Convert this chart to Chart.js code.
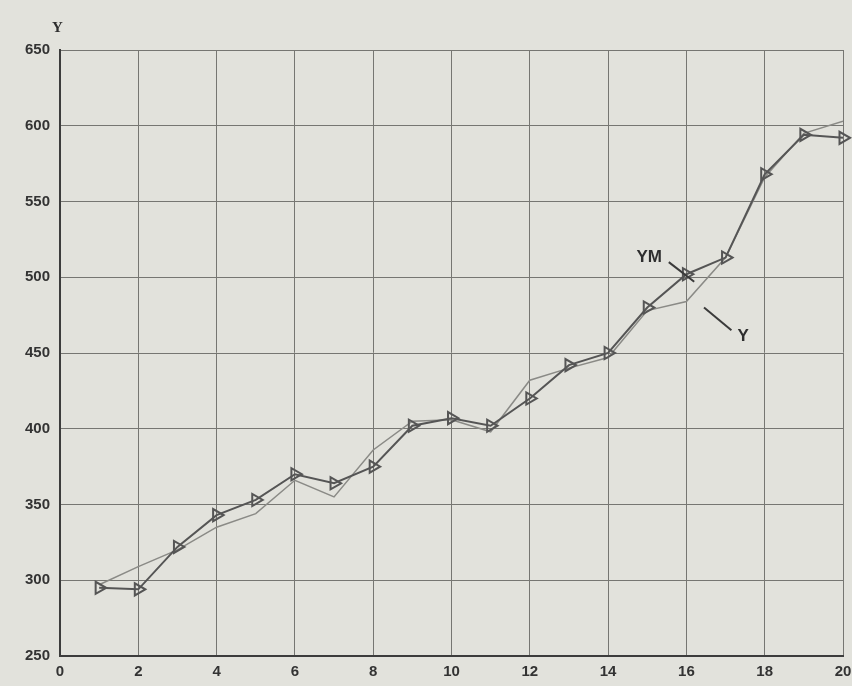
<!DOCTYPE html>
<html>
<head>
<meta charset="utf-8">
<script src="https://cdn.jsdelivr.net/npm/chart.js@4/dist/chart.umd.min.js"></script>
<style>
  html, body { margin: 0; padding: 0; background: #e2e2dc; }
  #wrap { width: 852px; height: 686px; }
</style>
</head>
<body>
<div id="wrap"><canvas id="chart" width="852" height="686"></canvas></div>
<script>
// данные
const xValues = [1, 2, 3, 4, 5, 6, 7, 8, 9, 10, 11, 12, 13, 14, 15, 16, 17, 18, 19, 20];
const ymValues = [295, 294, 322, 343, 353, 370, 364, 375, 402, 407, 402, 420, 442, 450, 480, 502, 513, 568, 594, 592];
const yValues = [297, 309, 320, 335, 344, 366, 355, 386, 405, 406, 398, 432, 440, 447, 478, 484, 513, 566, 595, 603];
const xTicks = [0, 2, 4, 6, 8, 10, 12, 14, 16, 18, 20];
const yTicks = [250, 300, 350, 400, 450, 500, 550, 600, 650];

// подписи кривых: текст, позиция текста, начало и конец выноски (в единицах осей)
const labels = [
  { text: 'YM', x: 15.05, y: 513, from: [15.55, 510], to: [16.2, 497] },
  { text: 'Y', x: 17.45, y: 461, from: [16.45, 480], to: [17.15, 465] }
];

const toPoints = vals => vals.map((v, i) => ({ x: xValues[i], y: v }));

// выноски и подпись оси Y
const notes = {
  id: 'notes',
  afterDatasetsDraw(chart) {
    const { ctx, scales: { x, y }, chartArea } = chart;
    ctx.save();
    ctx.strokeStyle = '#3a3a3a';
    ctx.lineWidth = 2;
    ctx.fillStyle = '#2e2e2e';
    ctx.font = 'bold 17px "Liberation Sans", Arial, sans-serif';
    ctx.textAlign = 'center';
    ctx.textBaseline = 'middle';
    labels.forEach(l => {
      ctx.beginPath();
      ctx.moveTo(x.getPixelForValue(l.from[0]), y.getPixelForValue(l.from[1]));
      ctx.lineTo(x.getPixelForValue(l.to[0]), y.getPixelForValue(l.to[1]));
      ctx.stroke();
      ctx.fillText(l.text, x.getPixelForValue(l.x), y.getPixelForValue(l.y));
    });
    ctx.font = 'bold 15px "Liberation Serif", serif';
    ctx.textAlign = 'left';
    ctx.fillText('Y', chartArea.left - 8, chartArea.top - 22);
    ctx.restore();
  }
};

new Chart(document.getElementById('chart'), {
  type: 'line',
  data: {
    datasets: [
      {
        label: 'YM',
        data: toPoints(ymValues),
        borderColor: '#555',
        borderWidth: 2,
        pointStyle: 'triangle',
        rotation: 90,
        pointRadius: 7,
        pointBorderWidth: 2,
        pointBorderColor: '#555',
        pointBackgroundColor: 'rgba(0,0,0,0)',
        tension: 0,
        clip: false
      },
      {
        label: 'Y',
        data: toPoints(yValues),
        borderColor: '#8a8a86',
        borderWidth: 1.5,
        pointRadius: 0,
        tension: 0
      }
    ]
  },
  options: {
    responsive: false,
    animation: false,
    layout: { padding: { top: 50, right: 6, left: 0, bottom: 0 } },
    plugins: { legend: { display: false }, tooltip: { enabled: false } },
    scales: {
      x: {
        type: 'linear',
        min: 0,
        max: 20,
        afterFit: s => { s.height = 30; s.paddingRight = 0; s.paddingLeft = 0; },
        afterBuildTicks: s => { s.ticks = xTicks.map(v => ({ value: v })); },
        grid: { color: '#767672', lineWidth: 1, drawTicks: false },
        border: { color: '#3c3c3c', width: 2 },
        ticks: {
          padding: 7,
          color: '#333',
          font: { size: 15, weight: 'bold', family: '"Liberation Sans", Arial, sans-serif' }
        }
      },
      y: {
        min: 250,
        max: 650,
        afterFit: s => { s.width = 60; },
        afterBuildTicks: s => { s.ticks = yTicks.map(v => ({ value: v })); },
        grid: { color: '#767672', lineWidth: 1, drawTicks: false },
        border: { color: '#3c3c3c', width: 2 },
        ticks: {
          padding: 10,
          color: '#333',
          font: { size: 15, weight: 'bold', family: '"Liberation Sans", Arial, sans-serif' }
        }
      }
    }
  },
  plugins: [notes]
});
</script>
</body>
</html>
